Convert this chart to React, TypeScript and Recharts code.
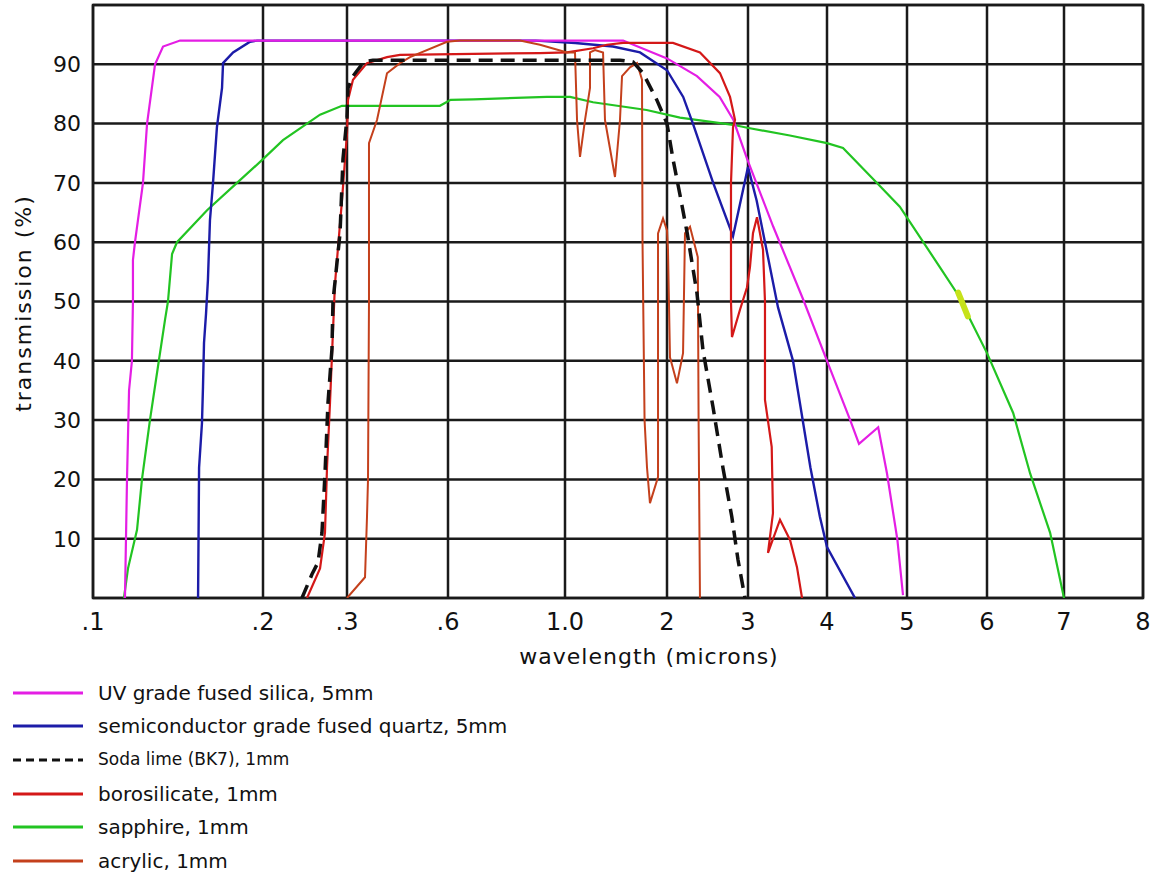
import React from "react";
import { LineChart, Line, XAxis, YAxis, CartesianGrid, Legend, ReferenceArea } from "recharts";

// The wavelength axis of the original is piecewise: every labelled value has its own grid line
const TICK_VALUES = [0.1, 0.2, 0.3, 0.6, 1.0, 2, 3, 4, 5, 6, 7, 8];
const TICK_LABELS = [".1", ".2", ".3", ".6", "1.0", "2", "3", "4", "5", "6", "7", "8"];
// position of each tick along the axis (axis units, 0..1050)
const TICK_POS = [0, 170, 254, 355, 472, 574, 655, 734, 814, 894, 971, 1050];
const Y_TICKS = [0, 10, 20, 30, 40, 50, 60, 70, 80, 90, 100];

// [wavelength in microns, transmission %]
const UV_SILICA = [
  [0.1188, 0], [0.12, 20], [0.1212, 35], [0.1229, 40], [0.1235, 50], [0.1235, 57], [0.1247, 60],
  [0.1294, 70], [0.1318, 80], [0.1365, 90], [0.1412, 93], [0.1512, 94], [1.57, 94], [2.0, 91],
  [2.37, 88], [2.65, 84.5], [2.82, 80.6], [2.99, 74], [3.32, 62.6], [3.7, 50.3], [4.0, 40],
  [4.29, 30], [4.4, 26], [4.64, 28.8], [4.75, 21], [4.88, 9.8], [4.95, 0.5],
];

const QUARTZ = [
  [0.1618, 0], [0.1624, 22], [0.1641, 29.5], [0.1647, 35.6], [0.1653, 43], [0.1665, 48],
  [0.1676, 53.6], [0.1688, 63.7], [0.1706, 70], [0.1729, 79.4], [0.1759, 86], [0.1765, 90.2],
  [0.1824, 92], [0.1924, 93.8], [0.1965, 94], [0.9, 94], [1.1, 93.6], [1.47, 93], [1.735, 92],
  [2.0, 89], [2.2, 84.5], [2.32, 80], [2.57, 70], [2.815, 61], [3.0, 72.7], [3.11, 67],
  [3.38, 49], [3.57, 40], [3.79, 22], [3.91, 13.7], [4.0, 8.6], [4.35, 0],
];

const SODA_LIME = [
  [0.2464, 0], [0.2583, 4], [0.2655, 6], [0.2702, 11], [0.2738, 21], [0.2774, 33], [0.2821, 42],
  [0.2833, 50], [0.2917, 61.5], [0.2952, 74], [0.3, 81], [0.303, 86], [0.3178, 88], [0.3446, 90],
  [0.3594, 90.5], [0.377, 90.7], [1.54, 90.7], [1.667, 90.4], [1.765, 88.5], [1.9, 84], [2.0, 80],
  [2.074, 74], [2.16, 68], [2.25, 61.5], [2.37, 51.4], [2.444, 41.8], [2.568, 32.2], [2.69, 22],
  [2.8, 13.7], [2.877, 6.4], [2.963, 0],
];

const BOROSILICATE = [
  [0.2524, 0], [0.2679, 5], [0.2738, 11], [0.2762, 22], [0.2798, 33], [0.2833, 45], [0.2857, 53],
  [0.294, 67], [0.3, 78.4], [0.303, 84], [0.3178, 87.4], [0.3594, 90.2], [0.4188, 91.2],
  [0.4574, 91.6], [0.9145, 91.9], [1.02, 92], [1.275, 92.7], [1.412, 93.3], [1.569, 93.6],
  [2.074, 93.6], [2.407, 92], [2.654, 88.5], [2.778, 84.5], [2.84, 80.6], [2.815, 79.4],
  [2.79, 70], [2.79, 50], [2.802, 44], [2.901, 48.6], [2.988, 52.4], [3.025, 55.8], [3.063, 61.5],
  [3.114, 64.2], [3.19, 58.7], [3.215, 50], [3.215, 33.4], [3.3, 25.5], [3.316, 14.3],
  [3.253, 7.6], [3.405, 13.2], [3.532, 9.8], [3.62, 5.2], [3.684, 0],
];

const SAPPHIRE = [
  [0.1182, 0], [0.1206, 5], [0.1259, 11.5], [0.1288, 20], [0.1335, 30], [0.1382, 39], [0.1424, 47],
  [0.1441, 50], [0.1465, 58], [0.1494, 60], [0.1671, 65.4], [0.1847, 70], [0.2, 74],
  [0.2238, 77.2], [0.2679, 81.5], [0.294, 83], [0.576, 83], [0.609, 84], [0.688, 84.1],
  [0.938, 84.5], [1.05, 84.5], [1.275, 83.6], [1.8, 82.3], [2.16, 81], [2.815, 79.8], [2.99, 79.3],
  [3.53, 78], [4.0, 76.7], [4.2, 75.9], [4.625, 70], [4.91, 66], [5.41, 55.8], [5.625, 51.4],
  [5.75, 48], [6.0, 41.3], [6.34, 31.2], [6.56, 21], [6.82, 11], [7.0, 0],
];

const ACRYLIC = [
  [0.3, 0], [0.3535, 3.5], [0.3594, 13.7], [0.3624, 20], [0.3653, 50], [0.3653, 76.7],
  [0.3891, 80.6], [0.4188, 88.5], [0.4574, 90.2], [0.4871, 91.2], [0.597, 93.8], [0.641, 94],
  [0.846, 94], [0.9145, 93.3], [1.02, 92], [1.098, 92], [1.118, 80.6], [1.147, 74.4],
  [1.196, 80.6], [1.245, 86], [1.245, 92], [1.294, 92.4], [1.373, 92], [1.392, 80.6], [1.49, 71],
  [1.539, 80.6], [1.559, 88], [1.637, 89.5], [1.706, 90.2], [1.755, 87.4], [1.76, 60], [1.78, 30],
  [1.804, 22], [1.833, 16], [1.912, 20.4], [1.912, 61.5], [1.961, 64], [2.0, 62], [2.012, 58.7],
  [2.037, 40.6], [2.123, 36.2], [2.198, 41.3], [2.222, 61.5], [2.284, 62.6], [2.38, 57.5],
  [2.39, 30], [2.407, 0],
];

// little yellow-green smudge sitting on the sapphire curve
const SMUDGE = [[5.64, 51.5], [5.76, 47.5]];

const SERIES_NAMES = [
  "UV grade fused silica, 5mm",
  "semiconductor grade fused quartz, 5mm",
  "Soda lime (BK7), 1mm",
  "borosilicate, 1mm",
  "sapphire, 1mm",
  "acrylic, 1mm",
];

const FONT = "'DejaVu Sans', Verdana, sans-serif";
const colors = {
  uv: "#e41ee4",
  quartz: "#1c1ca8",
  soda: "#111111",
  boro: "#d41818",
  sapphire: "#22c422",
  acrylic: "#c4401c",
  smudge: "#c6e21a",
};

// wavelength -> axis position, interpolating between the neighbouring ticks
const toPos = (w: number) => {
  for (let i = 0; i < TICK_VALUES.length - 1; i++) {
    const v0 = TICK_VALUES[i];
    const v1 = TICK_VALUES[i + 1];
    if (w <= v1 || i === TICK_VALUES.length - 2) {
      return TICK_POS[i] + ((w - v0) / (v1 - v0)) * (TICK_POS[i + 1] - TICK_POS[i]);
    }
  }
  return 0;
};

const toSeries = (pts: number[][]) => pts.map(([w, t]) => ({ pos: toPos(w), t }));

const legendRows = [
  { color: colors.uv, dash: undefined, fontSize: 20 },
  { color: colors.quartz, dash: undefined, fontSize: 20 },
  { color: colors.soda, dash: "8 5", fontSize: 17 },
  { color: colors.boro, dash: undefined, fontSize: 20 },
  { color: colors.sapphire, dash: undefined, fontSize: 20 },
  { color: colors.acrylic, dash: undefined, fontSize: 20 },
];

const renderLegend = () => (
  <div style={{ fontFamily: FONT, color: "#111" }}>
    {SERIES_NAMES.map((name, i) => (
      <div key={name} style={{ height: 33.6, display: "flex", alignItems: "center" }}>
        <svg width={98} height={10} style={{ flex: "none" }}>
          <line x1={13} x2={83} y1={5} y2={5} stroke={legendRows[i].color} strokeWidth={3}
            strokeDasharray={legendRows[i].dash} />
        </svg>
        <span style={{ fontSize: legendRows[i].fontSize, lineHeight: 1 }}>{name}</span>
      </div>
    ))}
  </div>
);

const XTitle = (props: any) => {
  const { viewBox } = props;
  return (
    <text x={viewBox.x + viewBox.width / 2 + 31} y={viewBox.y + 66} textAnchor="middle"
      fontSize={22} fontFamily={FONT} fill="#111" letterSpacing={1}>
      wavelength (microns)
    </text>
  );
};

const YTitle = () => (
  <text x={31} y={303} transform="rotate(-90, 31, 303)" textAnchor="middle"
    fontSize={22} fontFamily={FONT} fill="#111" letterSpacing={2}>
    transmission (%)
  </text>
);

export default function App() {
  return (
    <div>
      <style>{`body { margin: 0; background: #fff; }`}</style>
      <LineChart width={1151} height={874} margin={{ top: 5, right: 8, left: 0, bottom: 8.4 }}
        style={{ fontFamily: FONT }}>
        <CartesianGrid stroke="#1a1a1a" strokeWidth={2.5} />
        <XAxis type="number" dataKey="pos" domain={[0, 1050]} ticks={TICK_POS} interval={0}
          allowDataOverflow height={66} axisLine={false} tickLine={false} tickMargin={9}
          tickFormatter={(v: number) => TICK_LABELS[TICK_POS.indexOf(v)] ?? ""}
          tick={{ fontSize: 24, fill: "#111", fontFamily: FONT }}
          label={XTitle} />
        <YAxis type="number" domain={[0, 100]} ticks={Y_TICKS} interval={0} width={93}
          allowDataOverflow axisLine={false} tickLine={false} tickMargin={6}
          tickFormatter={(v: number) => (v === 0 || v === 100 ? "" : String(v))}
          tick={{ fontSize: 22, fill: "#111", fontFamily: FONT }}
          label={YTitle} />
        <ReferenceArea x1={0} x2={1050} y1={0} y2={100} fill="none" stroke="#1a1a1a"
          strokeWidth={2.5} ifOverflow="visible" />
        <Legend verticalAlign="bottom" align="left" layout="horizontal" content={renderLegend}
          wrapperStyle={{ top: 676, left: 0, width: 700, height: 201.6 }} />

        <Line data={toSeries(SAPPHIRE)} dataKey="t" stroke={colors.sapphire} strokeWidth={2.2}
          dot={false} isAnimationActive={false} />
        <Line data={toSeries(QUARTZ)} dataKey="t" stroke={colors.quartz} strokeWidth={2.4}
          dot={false} isAnimationActive={false} />
        <Line data={toSeries(UV_SILICA)} dataKey="t" stroke={colors.uv} strokeWidth={2.2}
          dot={false} isAnimationActive={false} />
        <Line data={toSeries(BOROSILICATE)} dataKey="t" stroke={colors.boro} strokeWidth={2.2}
          dot={false} isAnimationActive={false} />
        <Line data={toSeries(ACRYLIC)} dataKey="t" stroke={colors.acrylic} strokeWidth={2}
          dot={false} isAnimationActive={false} />
        <Line data={toSeries(SODA_LIME)} dataKey="t" stroke={colors.soda} strokeWidth={3.5}
          strokeDasharray="14 8" dot={false} isAnimationActive={false} />
        <Line data={toSeries(SMUDGE)} dataKey="t" stroke={colors.smudge} strokeWidth={6}
          strokeLinecap="round" dot={false} isAnimationActive={false} />
      </LineChart>
    </div>
  );
}
